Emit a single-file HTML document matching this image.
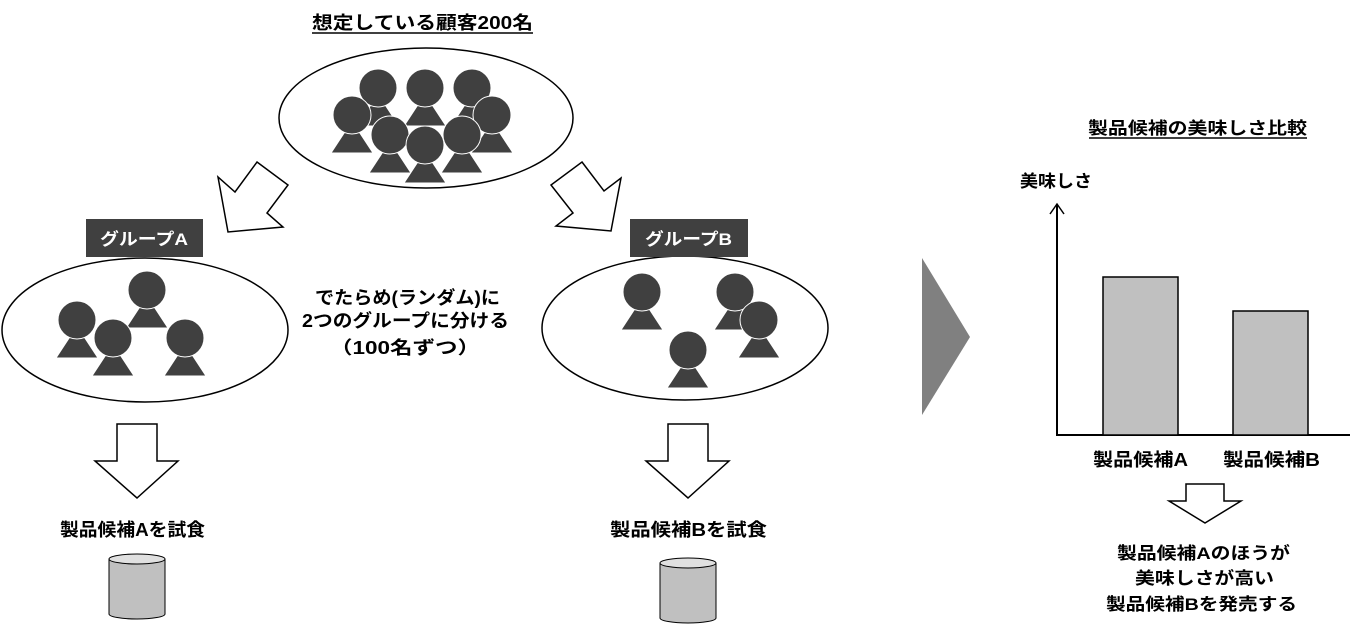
<!DOCTYPE html>
<html><head><meta charset="utf-8"><style>
html,body{margin:0;padding:0;background:#fff;}
svg text{font-family:"Liberation Sans","Noto Sans CJK JP",sans-serif;font-weight:bold;}
</style></head><body>
<svg width="1351" height="626" viewBox="0 0 1351 626" xmlns="http://www.w3.org/2000/svg">
<defs>
<g id="p">
<polygon points="0,6 -21,38 21,38" fill="#404040" stroke="#fff" stroke-width="1"/>
<circle cx="0" cy="0" r="19" fill="#404040" stroke="#fff" stroke-width="1"/>
</g>
</defs>
<text x="312" y="29" font-size="18" textLength="221" lengthAdjust="spacingAndGlyphs" fill="#000">想定している顧客200名</text>
<line x1="312" y1="33" x2="533" y2="33" stroke="#000" stroke-width="1.5"/>
<ellipse cx="426" cy="118" rx="147" ry="70" fill="#fff" stroke="#000" stroke-width="1.5"/>
<use href="#p" x="378" y="88"/><use href="#p" x="425" y="88"/><use href="#p" x="472" y="88"/>
<use href="#p" x="352" y="115"/><use href="#p" x="492" y="115"/>
<use href="#p" x="390" y="135"/><use href="#p" x="462" y="135"/><use href="#p" x="425" y="145"/>

<polygon points="257,162 288,185 267,213 283,227 228,232 218,177 235,192" fill="#fff" stroke="#000" stroke-width="1.5"/>
<polygon points="582,162 604,191 621,178 611,231 556,226 573,213 551,185" fill="#fff" stroke="#000" stroke-width="1.5"/>

<ellipse cx="145" cy="330" rx="143" ry="72" fill="#fff" stroke="#000" stroke-width="1.5"/>
<rect x="86" y="219" width="117" height="38" fill="#404040"/>
<text x="100" y="245" font-size="17" textLength="88" lengthAdjust="spacingAndGlyphs" fill="#fff">グループA</text>
<use href="#p" x="147" y="290"/><use href="#p" x="77" y="320"/><use href="#p" x="113" y="338"/><use href="#p" x="185" y="338"/>

<ellipse cx="685" cy="328" rx="143" ry="72" fill="#fff" stroke="#000" stroke-width="1.5"/>
<rect x="630" y="219" width="118" height="38" fill="#404040"/>
<text x="645" y="245" font-size="17" textLength="87" lengthAdjust="spacingAndGlyphs" fill="#fff">グループB</text>
<use href="#p" x="642" y="292"/><use href="#p" x="735" y="292"/><use href="#p" x="759" y="320"/><use href="#p" x="688" y="350"/>

<text x="315" y="304" font-size="18" textLength="185" lengthAdjust="spacingAndGlyphs">でたらめ(ランダム)に</text>
<text x="302" y="327" font-size="18" textLength="207" lengthAdjust="spacingAndGlyphs">2つのグループに分ける</text>
<text x="330" y="354" font-size="18" textLength="150" lengthAdjust="spacingAndGlyphs">（100名ずつ）</text>

<polygon points="117,424 157,424 157,461 178,461 137,498 95,461 117,461" fill="#fff" stroke="#000" stroke-width="1.5"/>
<polygon points="668,424 708,424 708,461 729,461 688,498 646,461 668,461" fill="#fff" stroke="#000" stroke-width="1.5"/>
<text x="60" y="536" font-size="18" textLength="145" lengthAdjust="spacingAndGlyphs">製品候補Aを試食</text>
<text x="610" y="536" font-size="18" textLength="157" lengthAdjust="spacingAndGlyphs">製品候補Bを試食</text>

<path d="M109,559 L109,614 A28,5 0 0 0 165,614 L165,559" fill="#c0c0c0" stroke="#000" stroke-width="1"/>
<ellipse cx="137" cy="559" rx="28" ry="5" fill="#e0e0e0" stroke="#000" stroke-width="1"/>
<path d="M660,563 L660,618 A28,5 0 0 0 716,618 L716,563" fill="#c0c0c0" stroke="#000" stroke-width="1"/>
<ellipse cx="688" cy="563" rx="28" ry="5" fill="#e0e0e0" stroke="#000" stroke-width="1"/>

<polygon points="922,258 970,337 922,415" fill="#808080"/>

<text x="1088" y="134" font-size="17" textLength="219" lengthAdjust="spacingAndGlyphs">製品候補の美味しさ比較</text>
<line x1="1089" y1="138" x2="1307" y2="138" stroke="#000" stroke-width="1.5"/>
<text x="1020" y="187" font-size="17" textLength="72" lengthAdjust="spacingAndGlyphs">美味しさ</text>
<line x1="1057" y1="204" x2="1057" y2="436" stroke="#000" stroke-width="2"/>
<polyline points="1050,214 1057,204 1064,214" fill="none" stroke="#000" stroke-width="1.5"/>
<line x1="1056" y1="435" x2="1350" y2="435" stroke="#000" stroke-width="2"/>
<rect x="1103" y="277" width="75" height="158" fill="#c0c0c0" stroke="#000" stroke-width="1.5"/>
<rect x="1233" y="311" width="75" height="124" fill="#c0c0c0" stroke="#000" stroke-width="1.5"/>
<text x="1093" y="466" font-size="18" textLength="95" lengthAdjust="spacingAndGlyphs">製品候補A</text>
<text x="1223" y="466" font-size="18" textLength="97" lengthAdjust="spacingAndGlyphs">製品候補B</text>

<polygon points="1186,484 1224,484 1224,501 1241,501 1205,523 1169,501 1186,501" fill="#fff" stroke="#000" stroke-width="1.5"/>
<text x="1117" y="559" font-size="17" textLength="173" lengthAdjust="spacingAndGlyphs">製品候補Aのほうが</text>
<text x="1135" y="584" font-size="17" textLength="139" lengthAdjust="spacingAndGlyphs">美味しさが高い</text>
<text x="1106" y="610" font-size="17" textLength="191" lengthAdjust="spacingAndGlyphs">製品候補Bを発売する</text>
</svg>
</body></html>
